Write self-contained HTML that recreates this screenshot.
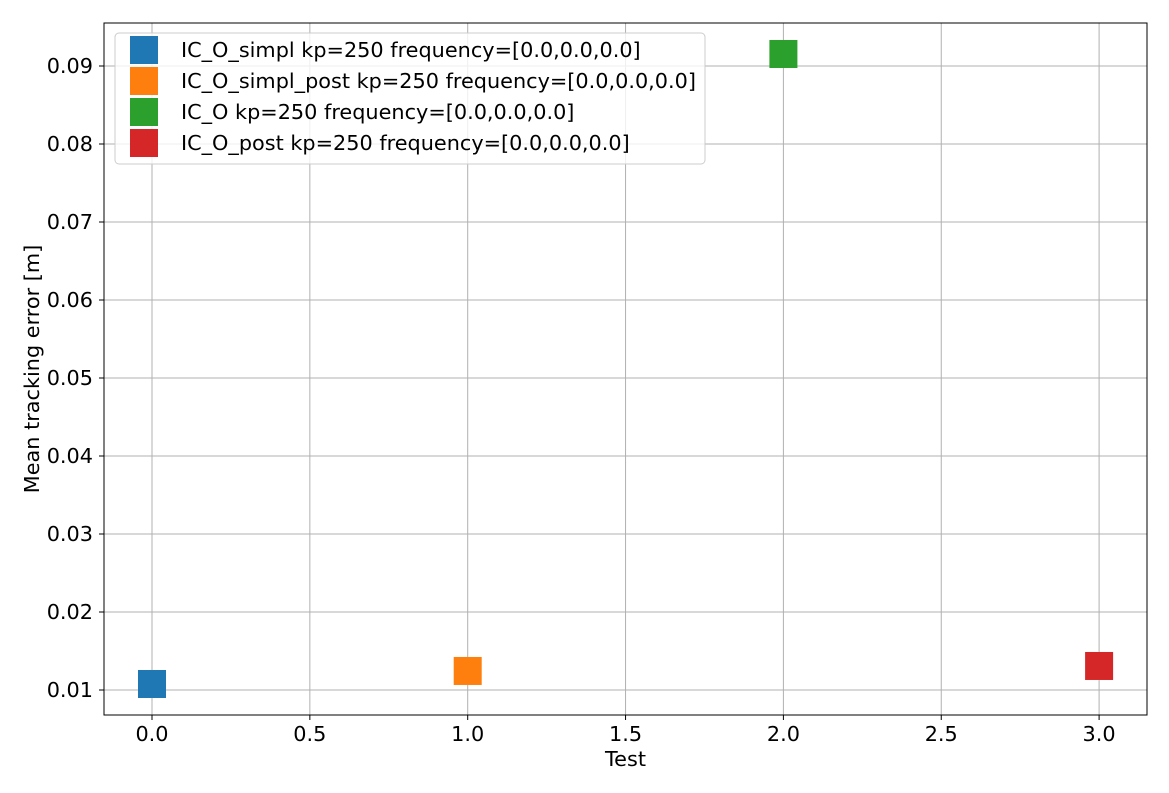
<!DOCTYPE html>
<html><head><meta charset="utf-8"><style>
body{margin:0;background:#fff;}
svg{display:block;font-family:"DejaVu Sans","Liberation Sans",sans-serif;}
</style></head><body>
<svg id="chart" width="1169" height="793"></svg>
<script>
const categories=["IC_O_simpl kp=250 frequency=[0.0,0.0,0.0]","IC_O_simpl_post kp=250 frequency=[0.0,0.0,0.0]","IC_O kp=250 frequency=[0.0,0.0,0.0]","IC_O_post kp=250 frequency=[0.0,0.0,0.0]"];
const xValues=[0,1,2,3];
const yValues=[0.01077,0.01244,0.09154,0.01308];
const colors=["#1f77b4","#ff7f0e","#2ca02c","#d62728"];
const xTicks=[0,0.5,1,1.5,2,2.5,3];
const yTicks=[0.01,0.02,0.03,0.04,0.05,0.06,0.07,0.08,0.09];
const NS="http://www.w3.org/2000/svg";
const svg=document.getElementById('chart');
const L=104,R=1147,T=23,B=715,FS=20.8;
const xs=v=>152+v*315.7;
const ys=v=>690-(v-0.01)*7800;
function mk(tag,attrs,parent){const e=document.createElementNS(NS,tag);for(const k in attrs)e.setAttribute(k,attrs[k]);(parent||svg).appendChild(e);return e;}
xTicks.forEach(t=>{
 const g=mk('line',{x1:xs(t),x2:xs(t),y1:T,y2:B,stroke:'#b0b0b0','stroke-width':1});
 
 
 mk('line',{x1:xs(t),x2:xs(t),y1:B,y2:B+5,stroke:'#000'});
 const tx=mk('text',{x:xs(t),y:B+26,'text-anchor':'middle','font-size':FS});
 tx.textContent=t.toFixed(1);
 
 
});
yTicks.forEach(t=>{
 const g=mk('line',{x1:L,x2:R,y1:ys(t),y2:ys(t),stroke:'#b0b0b0','stroke-width':1});
 
 
 mk('line',{x1:L-5,x2:L,y1:ys(t),y2:ys(t),stroke:'#000'});
 const tx=mk('text',{x:L-11,y:ys(t)+7,'text-anchor':'end','font-size':FS});
 tx.textContent=t.toFixed(2);
 
 
});
xValues.forEach((x,i)=>{
 const r=mk('rect',{x:xs(x)-14,y:ys(yValues[i])-14,width:28,height:28,fill:colors[i]});
 
 
});
const fr=mk('rect',{x:L,y:T,width:R-L,height:B-T,fill:'none',stroke:'#000','stroke-width':1});


const lg=mk('rect',{x:115,y:33,width:590,height:131,rx:4,fill:'#fff','fill-opacity':0.8,stroke:'#ccc'});


categories.forEach((c,i)=>{
 const y=50+i*31;
 const s=mk('rect',{x:130,y:y-14,width:28,height:28,fill:colors[i]});
 
 
 const t=mk('text',{x:181,y:y+7,'font-size':FS});
 t.textContent=c;
 
 
});
const xt=mk('text',{x:(L+R)/2,y:766,'text-anchor':'middle','font-size':FS});
xt.textContent='Test';


const yt=mk('text',{x:0,y:0,'text-anchor':'middle','font-size':FS,transform:'translate(39,369) rotate(-90)'});
yt.textContent='Mean tracking error [m]';


</script>
</body></html>
